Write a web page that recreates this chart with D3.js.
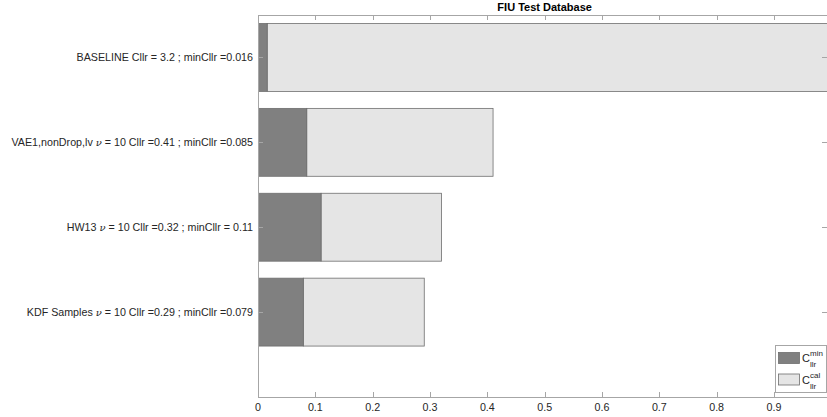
<!DOCTYPE html>
<html>
<head>
<meta charset="utf-8">
<script src="https://cdn.jsdelivr.net/npm/d3@7"></script>
<style>
  html, body { margin: 0; padding: 0; background: #fff; }
  svg { display: block; font-family: "Liberation Sans", Arial, Helvetica, sans-serif; }
</style>
</head>
<body>
<svg id="chart" width="827" height="417"></svg>
<script>
// Systems evaluated on the FIU test database
const systems = ["BASELINE", "VAE1,nonDrop,lv", "HW13", "KDF Samples"];
const nuValues = [null, 10, 10, 10];
const cllr = [3.2, 0.41, 0.32, 0.29];
const minCllr = [0.016, 0.085, 0.11, 0.079];
const cllrText = ["Cllr = 3.2", "Cllr =0.41", "Cllr =0.32", "Cllr =0.29"];
const minText = ["minCllr =0.016", "minCllr =0.085", "minCllr = 0.11", "minCllr =0.079"];
const xTicks = [0, 0.1, 0.2, 0.3, 0.4, 0.5, 0.6, 0.7, 0.8, 0.9];
const title = "FIU Test Database";

const svg = d3.select("#chart");
const W = 827, H = 417;
const mLeft = 258, mTop = 15, mBottom = 397, mRight = 831.3;

const x = d3.scaleLinear().domain([0, 1]).range([mLeft, mRight]);
const y = d3.scaleLinear().domain([0.5, 5]).range([mTop, mBottom]);
const barH = (y(1.4) - y(0.6));

const darkFill = "#808080", lightFill = "#e5e5e5", edge = "#6e6e6e", axisCol = "#a6a6a6";

svg.append("defs").append("clipPath").attr("id", "plotClip")
  .append("rect").attr("x", mLeft).attr("y", mTop).attr("width", W - mLeft).attr("height", mBottom - mTop);

const plot = svg.append("g").attr("clip-path", "url(#plotClip)");

systems.forEach((s, i) => {
  const yc = y(i + 1);
  // calibration loss segment (light), spanning minCllr..Cllr
  plot.append("rect")
    .attr("x", x(minCllr[i])).attr("y", yc - barH / 2)
    .attr("width", x(cllr[i]) - x(minCllr[i])).attr("height", barH)
    .attr("fill", lightFill).attr("stroke", edge).attr("stroke-width", 0.8);
  // discrimination loss segment (dark), 0..minCllr
  plot.append("rect")
    .attr("x", x(0)).attr("y", yc - barH / 2)
    .attr("width", x(minCllr[i]) - x(0)).attr("height", barH)
    .attr("fill", darkFill).attr("stroke", edge).attr("stroke-width", 0.8);
});

// axes box lines
const axes = svg.append("g").attr("stroke", axisCol).attr("fill", "none").attr("stroke-width", 1);
axes.append("line").attr("x1", mLeft).attr("x2", W).attr("y1", mTop + 0.5).attr("y2", mTop + 0.5);
axes.append("line").attr("x1", mLeft).attr("x2", W).attr("y1", mBottom + 0.5).attr("y2", mBottom + 0.5);
axes.append("line").attr("x1", mLeft + 0.5).attr("x2", mLeft + 0.5).attr("y1", mTop).attr("y2", mBottom);

// x ticks (bottom and top) with labels
const xAxis = svg.append("g");
xTicks.forEach(t => {
  const px = Math.round(x(t)) + 0.5;
  xAxis.append("line").attr("x1", px).attr("x2", px).attr("y1", mBottom).attr("y2", mBottom - 5)
    .attr("stroke", axisCol);
  xAxis.append("line").attr("x1", px).attr("x2", px).attr("y1", mTop).attr("y2", mTop + 5)
    .attr("stroke", axisCol);
  xAxis.append("text").attr("x", x(t)).attr("y", 411)
    .attr("text-anchor", "middle").attr("font-size", 10.7).attr("fill", "#262626")
    .text(d3.format("")(t));
});

// y ticks and category labels
const yAxis = svg.append("g");
systems.forEach((s, i) => {
  const py = Math.round(y(i + 1)) + 0.5;
  yAxis.append("line").attr("x1", mLeft).attr("x2", mLeft + 5).attr("y1", py).attr("y2", py).attr("stroke", axisCol);
  yAxis.append("line").attr("x1", W).attr("x2", W - 5).attr("y1", py).attr("y2", py).attr("stroke", axisCol);
  const t = yAxis.append("text").attr("x", mLeft - 5).attr("y", y(i + 1) + 3.8)
    .attr("text-anchor", "end").attr("font-size", 10.7).attr("fill", "#262626");
  t.append("tspan").text(s + " ");
  if (nuValues[i] !== null) {
    t.append("tspan").attr("font-family", "'DejaVu Serif', 'Liberation Serif', serif")
      .attr("font-style", "italic").attr("font-size", 10).text("ν");
    t.append("tspan").text(" = " + nuValues[i] + " ");
  }
  t.append("tspan").text(cllrText[i] + " ; " + minText[i]);
});

// title
svg.append("text").attr("x", (mLeft + mRight) / 2).attr("y", 11)
  .attr("text-anchor", "middle").attr("font-size", 11).attr("font-weight", "bold")
  .attr("fill", "#000").text(title);

// legend
const lg = svg.append("g");
lg.append("rect").attr("x", 775.5).attr("y", 345.5).attr("width", 51).attr("height", 47)
  .attr("fill", "#fff").attr("stroke", axisCol);
const entries = [{fill: darkFill, sup: "min"}, {fill: lightFill, sup: "cal"}];
entries.forEach((e, k) => {
  const yy = 352 + k * 21.5;
  lg.append("rect").attr("x", 778.5).attr("y", yy + 0.5).attr("width", 21).attr("height", 11)
    .attr("fill", e.fill).attr("stroke", edge).attr("stroke-width", 0.8);
  lg.append("text").attr("x", 802).attr("y", yy + 10).attr("font-size", 11).attr("fill", "#262626").text("C");
  lg.append("text").attr("x", 810).attr("y", yy + 4).attr("font-size", 8).attr("fill", "#262626").text(e.sup);
  lg.append("text").attr("x", 810).attr("y", yy + 15).attr("font-size", 8).attr("fill", "#262626").text("llr");
});
</script>
</body>
</html>
